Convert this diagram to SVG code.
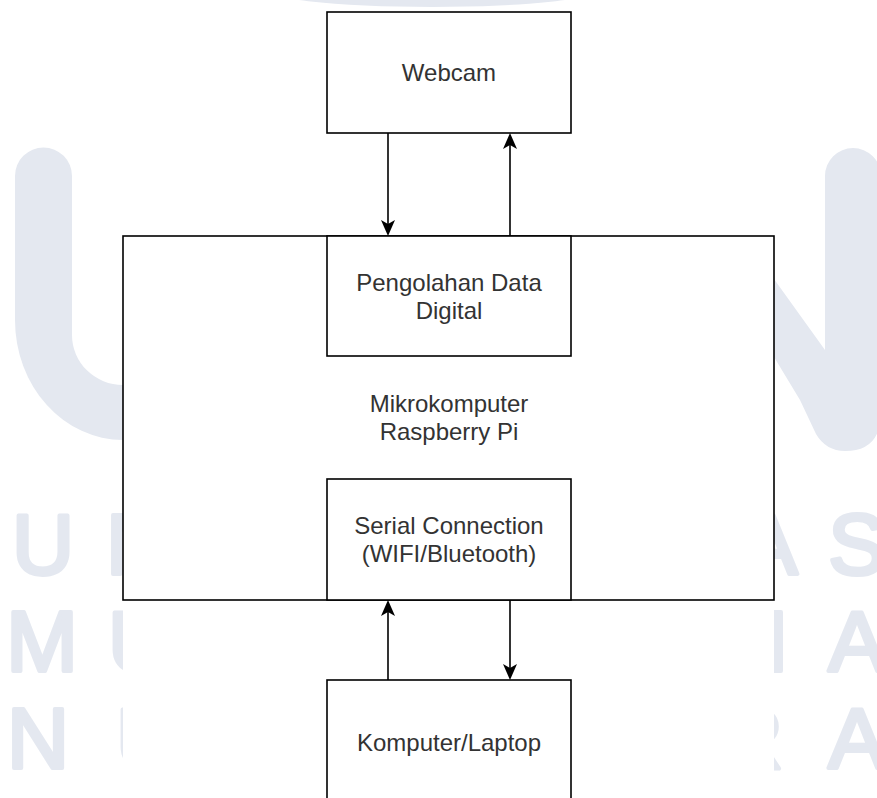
<svg xmlns="http://www.w3.org/2000/svg" width="877" height="798" viewBox="0 0 877 798">
<style>
.wm{fill:#e4e8f0}
.wmt{fill:#e4e8f0;stroke:#e4e8f0;stroke-width:4;stroke-linejoin:round;font-family:"Liberation Sans",Arial,sans-serif;font-size:86px;text-anchor:middle}
.box{fill:#fff;stroke:#000;stroke-width:1.6}
.lbl{fill:#333;font-family:"Liberation Sans",Arial,sans-serif;font-size:24px;text-anchor:middle}
.edge{fill:none;stroke:#000;stroke-width:1.6}
</style>
<defs>
<marker id="arrow" viewBox="-16 -8 16 16" refX="-10" refY="0" markerWidth="16" markerHeight="16" markerUnits="userSpaceOnUse" orient="auto">
<path d="M0,0 L-16,-7 L-12,0 L-16,7 Z" fill="#000"/>
</marker>
</defs>
<rect width="877" height="798" fill="#fff"/>
<g id="watermark">
<ellipse class="wm" cx="432" cy="-13" rx="175" ry="20"/>
<path class="wm" d="M15,176 A28.5,28.5 0 0 1 72,176 L72,335 A51,50 0 0 0 123,385 L123,440 A108,120 0 0 1 15,320 Z"/>
<path class="wm" d="M774,279 L825,350 L825,176 A28,28 0 0 1 881,176 L881,412 Q881,451 845,451 Q826,451 816,434 L800,400 L774,357 Z"/>
<text class="wmt" x="43" y="574">U</text>
<text class="wmt" x="137" y="574">N</text>
<text class="wmt" x="42" y="671">M</text>
<text class="wmt" x="139" y="671">U</text>
<text class="wmt" x="38" y="768">N</text>
<text class="wmt" x="147" y="768">U</text>
<text class="wmt" x="769" y="574">A</text>
<text class="wmt" x="857" y="574">S</text>
<text class="wmt" x="777" y="671">I</text>
<text class="wmt" x="857" y="671">A</text>
<text class="wmt" x="752" y="768">R</text>
<text class="wmt" x="857" y="768">A</text>
<rect x="123" y="8" width="651" height="790" fill="#fff"/>
</g>
<g id="raspberry">
<rect class="box" x="123" y="236" width="651" height="364"/>
<text class="lbl" x="449" y="412">Mikrokomputer</text>
<text class="lbl" x="449" y="440">Raspberry Pi</text>
</g>
<g id="webcam">
<rect class="box" x="327" y="12" width="244" height="121"/>
<text class="lbl" x="449" y="81">Webcam</text>
</g>
<g id="pengolahan">
<rect class="box" x="327" y="236" width="244" height="120"/>
<text class="lbl" x="449" y="291">Pengolahan Data</text>
<text class="lbl" x="449" y="319">Digital</text>
</g>
<g id="serial">
<rect class="box" x="327" y="479" width="244" height="121"/>
<text class="lbl" x="449" y="534">Serial Connection</text>
<text class="lbl" x="449" y="562">(WIFI/Bluetooth)</text>
</g>
<g id="komputer">
<rect class="box" x="327" y="680" width="244" height="124"/>
<text class="lbl" x="449" y="751">Komputer/Laptop</text>
</g>
<g id="connectors">
<path class="edge" d="M388,133 L388,226" marker-end="url(#arrow)"/>
<path class="edge" d="M510,236 L510,143" marker-end="url(#arrow)"/>
<path class="edge" d="M388,680 L388,610" marker-end="url(#arrow)"/>
<path class="edge" d="M510,600 L510,670" marker-end="url(#arrow)"/>
</g>
</svg>
